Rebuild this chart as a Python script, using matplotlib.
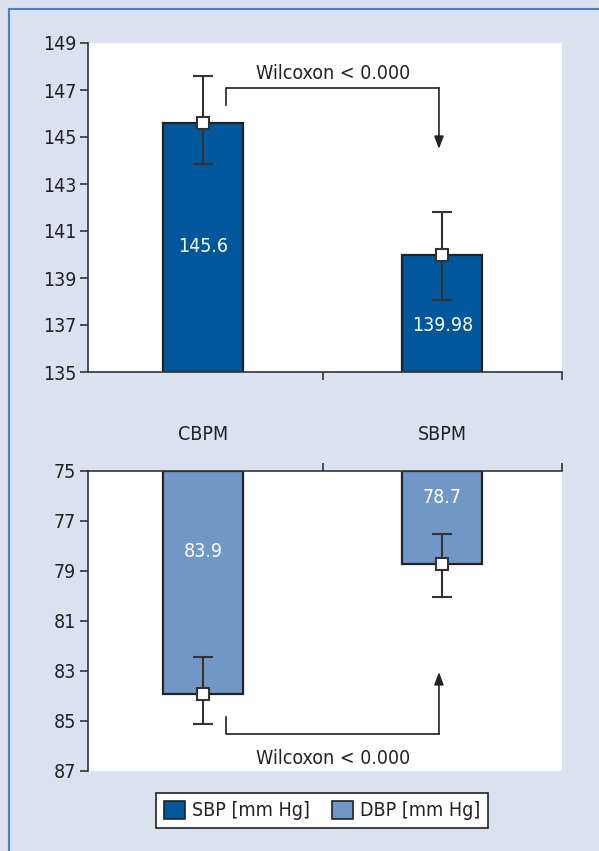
import matplotlib
matplotlib.use("Agg")
import matplotlib.pyplot as plt
from matplotlib import font_manager
from matplotlib.patches import Patch
from matplotlib.lines import Line2D
from matplotlib.transforms import blended_transform_factory

# Prefer a condensed sans face when one is installed
narrow = None
for f in font_manager.fontManager.ttflist:
    if f.name == 'Liberation Sans Narrow':
        narrow = ('Liberation Sans Narrow', 'normal')
        break
if narrow is None:
    for f in font_manager.fontManager.ttflist:
        if f.name == 'DejaVu Sans' and 'Condensed' in f.fname:
            narrow = ('DejaVu Sans', 'condensed')
            break
if narrow is None:
    narrow = ('Liberation Sans', 'normal')
plt.rcParams['font.family'] = [narrow[0], 'DejaVu Sans']
plt.rcParams['font.stretch'] = narrow[1]

# Data
groups = ["CBPM", "SBPM"]
sbp_mean = [145.6, 139.98]
sbp_low = [143.85, 138.08]
sbp_high = [147.6, 141.82]
dbp_mean = [83.9, 78.7]
dbp_low = [82.45, 77.53]
dbp_high = [85.1, 80.03]
sbp_ticks = [135, 137, 139, 141, 143, 145, 147, 149]
dbp_ticks = [75, 77, 79, 81, 83, 85, 87]
series_names = ["SBP [mm Hg]", "DBP [mm Hg]"]
p_label = "Wilcoxon < 0.000"

BG = "#dbe1ee"
SBP_COLOR = "#00579b"
DBP_COLOR = "#7197c7"
INK = "#222222"
FS = 14

fig = plt.figure(figsize=(5.99, 8.51), dpi=100, facecolor=BG)

ax_top = fig.add_axes([88 / 599, 1 - 372 / 851, 474 / 599, 329 / 851])
ax_bot = fig.add_axes([88 / 599, 1 - 771 / 851, 474 / 599, 300 / 851])

x = list(range(len(groups)))
bar_w = 0.335


def draw_panel(ax, means, lows, highs, base, color):
    heights = [m - base for m in means]
    ax.bar(x, heights, bottom=base, width=bar_w, color=color,
           edgecolor=INK, linewidth=1.6, zorder=2)
    yerr = [[m - lo for m, lo in zip(means, lows)],
            [hi - m for m, hi in zip(means, highs)]]
    ax.errorbar(x, means, yerr=yerr, fmt='s', color=INK, ecolor="#333333",
                elinewidth=1.5, capsize=7.5, capthick=1.5,
                markersize=8, markerfacecolor='white',
                markeredgecolor="#333333", markeredgewidth=1.5, zorder=3)
    ax.set_xlim(-0.48, 1.5)
    ax.set_facecolor('white')
    for s in ax.spines.values():
        s.set_color("#333333")
        s.set_linewidth(1.2)
    ax.tick_params(axis='y', direction='out', length=6, width=1.2,
                   color="#333333", labelsize=FS, labelcolor=INK, pad=2.5)
    ax.tick_params(axis='x', direction='out', length=6, width=1.2,
                   color="#333333", labelbottom=False, labeltop=False)
    ax.set_xticks([0.5, 1.5])


# Systolic panel
draw_panel(ax_top, sbp_mean, sbp_low, sbp_high, sbp_ticks[0], SBP_COLOR)
ax_top.set_ylim(sbp_ticks[0], sbp_ticks[-1])
ax_top.set_yticks(sbp_ticks)
ax_top.spines['top'].set_visible(False)
ax_top.spines['right'].set_visible(False)
for xi, v, ty in zip(x, sbp_mean, [140.36, 136.96]):
    ax_top.text(xi, ty, f"{v:g}", color='white', fontsize=FS,
                ha='center', va='center', zorder=4)

# Diastolic panel (inverted axis, bars hang from the top)
draw_panel(ax_bot, dbp_mean, dbp_low, dbp_high, dbp_ticks[0], DBP_COLOR)
ax_bot.set_ylim(dbp_ticks[-1], dbp_ticks[0])
ax_bot.set_yticks(dbp_ticks)
ax_bot.xaxis.tick_top()
ax_bot.tick_params(axis='x', labeltop=False)
ax_bot.spines['bottom'].set_visible(False)
ax_bot.spines['right'].set_visible(False)
for xi, v, ty in zip(x, dbp_mean, [78.24, 76.04]):
    ax_bot.text(xi, ty, f"{v:g}", color='white', fontsize=FS,
                ha='center', va='center', zorder=4)

# Significance brackets
arrow_kw = dict(arrowstyle='-|>,head_length=0.75,head_width=0.28',
                color=INK, lw=1.2, shrinkA=0, shrinkB=0)
bx0, bx1 = 0.097, 0.986

ax_top.plot([bx0, bx0, bx1], [146.36, 147.09, 147.09], color=INK, lw=1.2,
            solid_joinstyle='miter', zorder=3)
ax_top.annotate('', xy=(bx1, 144.49), xytext=(bx1, 147.09), arrowprops=arrow_kw)
ax_top.text(0.545, 147.72, p_label, fontsize=FS, color=INK,
            ha='center', va='center')

ax_bot.plot([bx0, bx0, bx1], [84.84, 85.52, 85.52], color=INK, lw=1.2,
            solid_joinstyle='miter', zorder=3)
ax_bot.annotate('', xy=(bx1, 83.04), xytext=(bx1, 85.52), arrowprops=arrow_kw)
ax_bot.text(0.545, 86.52, p_label, fontsize=FS, color=INK,
            ha='center', va='center')

# Category labels between the panels
tr = blended_transform_factory(ax_top.transData, fig.transFigure)
for xi, g in zip(x, groups):
    ax_top.text(xi, 1 - 434 / 851, g, transform=tr, fontsize=FS, color=INK,
                ha='center', va='center')

# Legend
handles = [Patch(facecolor=SBP_COLOR, edgecolor=INK, linewidth=1.2),
           Patch(facecolor=DBP_COLOR, edgecolor=INK, linewidth=1.2)]
leg = fig.legend(handles, series_names, loc='center',
                 bbox_to_anchor=(322 / 599, 1 - 810.5 / 851), ncol=2,
                 fontsize=FS, frameon=True, fancybox=False,
                 handlelength=1.1, handleheight=1.1, handletextpad=0.35,
                 columnspacing=1.1, borderpad=0.4, borderaxespad=0)
leg.get_frame().set_edgecolor(INK)
leg.get_frame().set_linewidth(1.2)
leg.get_frame().set_facecolor('white')
leg.get_frame().set_alpha(1.0)
for t in leg.get_texts():
    t.set_color(INK)

# Outer frame lines along the top and left edges
fig.add_artist(Line2D([9 / 599, 1.0], [1 - 9 / 851, 1 - 9 / 851],
                      transform=fig.transFigure, color="#4a83c2", lw=1.5))
fig.add_artist(Line2D([9 / 599, 9 / 599], [0.0, 1 - 9 / 851],
                      transform=fig.transFigure, color="#4a83c2", lw=1.5))

fig.savefig("out.png", dpi=100, facecolor=BG)
